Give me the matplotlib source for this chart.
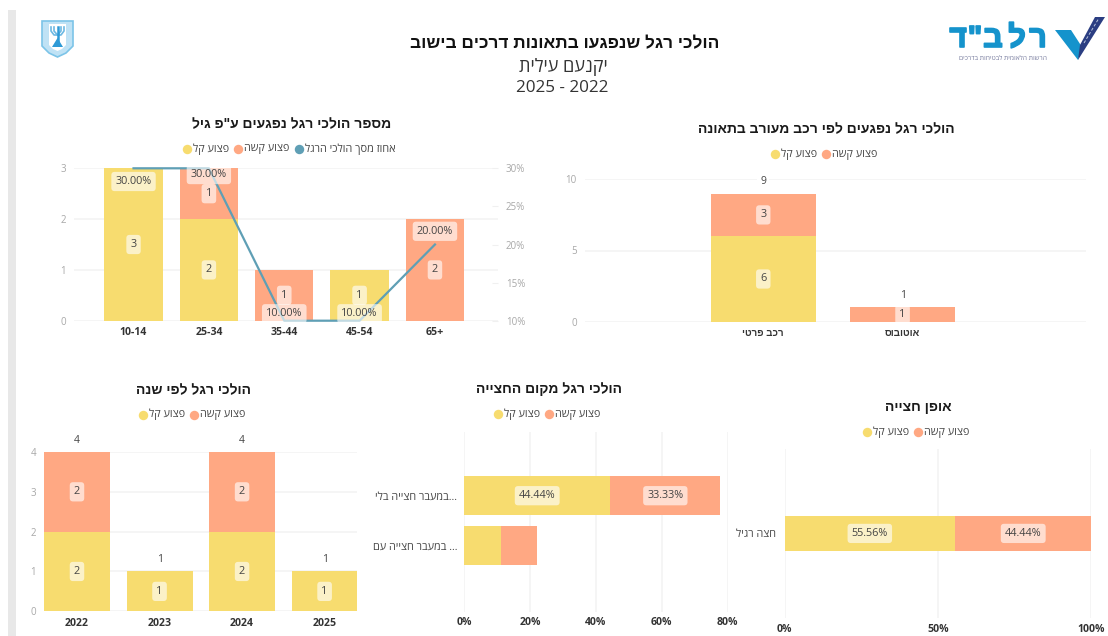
import matplotlib
matplotlib.use("Agg")
import matplotlib.pyplot as plt
import matplotlib.patheffects as pe
from matplotlib.patches import Polygon, Rectangle

plt.rcParams['font.family'] = ['Open Sans', 'Liberation Sans', 'DejaVu Sans']
BOLD_HEB = ['Liberation Sans', 'DejaVu Sans']

# Data
light_name = "פצוע קל"
severe_name = "פצוע קשה"
share_name = "אחוז מסך הולכי הרגל"

age_groups = ["10-14", "25-34", "35-44", "45-54", "65+"]
age_light = [3, 2, 0, 1, 0]
age_severe = [0, 1, 1, 0, 2]
age_share = [30, 30, 10, 10, 20]

vehicles = ["רכב פרטי", "אוטובוס"]
vehicle_light = [6, 0]
vehicle_severe = [3, 1]

years = ["2022", "2023", "2024", "2025"]
year_light = [2, 1, 2, 1]
year_severe = [2, 0, 2, 0]

places = ["...במעבר חצייה בלי", "... במעבר חצייה עם"]
place_light = [44.44, 11.11]
place_severe = [33.33, 11.11]

manners = ["חצה רגיל"]
manner_light = [55.56]
manner_severe = [44.44]

YELLOW = "#F7DC6F"
SALMON = "#FFA883"
TEAL = "#5F9FB5"
GRID = "#F3F3F3"
W, H = 1108, 636
BADGE = dict(boxstyle='round,pad=0.38,rounding_size=0.3', fc='white', ec='none', alpha=0.62)


def rtl(s):
    # matplotlib has no bidi, so Hebrew goes in visual order
    return s[::-1]


fig = plt.figure(figsize=(W / 100, H / 100), dpi=100)


def px_axes(left, top, right, bottom):
    ax = fig.add_axes([left / W, 1 - bottom / H, (right - left) / W, (bottom - top) / H])
    ax.set_axisbelow(True)
    for s in ax.spines.values():
        s.set_visible(False)
    return ax


def badge(ax, x, y, text):
    ax.text(x, y, text, ha='center', va='center', fontsize=7.8, color='#444444', zorder=6, bbox=BADGE)


def style_vbars(ax, labels, family=None, size=7.6):
    ax.grid(axis='y', color=GRID, lw=1.1)
    ax.tick_params(axis='x', length=0, pad=4.5)
    ax.tick_params(axis='y', length=0, pad=6, labelsize=7, labelcolor='#A8A8A8')
    ax.set_xticks(range(len(labels)))
    ax.set_xticklabels(labels, fontsize=size, fontweight='bold', color='#333333', family=family)


def stacked_v(ax, light, severe, width):
    xs = range(len(light))
    ax.bar(xs, light, width=width, color=YELLOW, zorder=2)
    ax.bar(xs, severe, width=width, bottom=light, color=SALMON, zorder=2)
    for x, a, b in zip(xs, light, severe):
        if a:
            badge(ax, x, a / 2, str(a))
        if b:
            badge(ax, x, a + b / 2, str(b))


def totals(ax, light, severe):
    for x, (a, b) in enumerate(zip(light, severe)):
        ax.annotate(str(a + b), (x, a + b), xytext=(0, 8.5), textcoords='offset points', ha='center',
                    va='center', fontsize=7.5, color='#444444', zorder=6, annotation_clip=False,
                    bbox=dict(boxstyle='square,pad=0.3', fc='white', ec='none'))


def stacked_h(ax, labels, light, severe, ticks, height):
    ys = range(len(labels))
    ax.barh(ys, light, height=height, color=YELLOW, zorder=2)
    ax.barh(ys, severe, height=height, left=light, color=SALMON, zorder=2)
    for y, a, b in zip(ys, light, severe):
        # the small bar has no room for its labels
        if a > 20:
            badge(ax, a / 2, y, f"{a:.2f}%")
        if b > 20:
            badge(ax, a + b / 2, y, f"{b:.2f}%")
    ax.grid(axis='x', color=GRID, lw=1.1)
    ax.set_yticks(list(ys))
    ax.set_yticklabels([rtl(s) for s in labels], fontsize=7.8, color='#444444')
    ax.set_xticks(ticks)
    ax.set_xticklabels([f"{t}%" for t in ticks], fontsize=7.6, fontweight='bold', color='#333333')
    ax.tick_params(length=0)


# Age chart with share line on second axis
ax1 = px_axes(74, 168.3, 497.5, 320.7)
stacked_v(ax1, age_light, age_severe, 0.775)
style_vbars(ax1, age_groups)
ax1.set_xlim(-0.79, 4.83)
ax1.set_ylim(0, 3)
ax1.set_yticks([0, 1, 2, 3])

ax1b = ax1.twinx()
for s in ax1b.spines.values():
    s.set_visible(False)
ax1b.plot(range(5), age_share, color=TEAL, lw=1.6, clip_on=False, zorder=4)
ax1b.set_ylim(10, 30)
ax1b.set_yticks([10, 15, 20, 25, 30])
ax1b.set_yticklabels([f"{t}%" for t in [10, 15, 20, 25, 30]], fontsize=7, color='#A8A8A8')
ax1b.tick_params(axis='y', direction='in', length=4.5, color='#F0F0F0', pad=6)
share_offsets = [-9.5, -4.5, 5, 5, 9.5]
for x, v, off in zip(range(5), age_share, share_offsets):
    ax1b.annotate(f"{v:.2f}%", (x, v), xytext=(0, off), textcoords='offset points', ha='center', va='center',
                  fontsize=7.8, color='#444444', zorder=6, annotation_clip=False, bbox=BADGE)

# Vehicle chart
ax2 = px_axes(585, 179.3, 1086, 321.7)
stacked_v(ax2, vehicle_light, vehicle_severe, 0.757)
style_vbars(ax2, [rtl(v) for v in vehicles], family=BOLD_HEB, size=7)
ax2.set_xlim(-1.28, 2.317)
ax2.set_ylim(0, 10)
ax2.set_yticks([0, 5, 10])
totals(ax2, vehicle_light, vehicle_severe)

# Year chart
ax3 = px_axes(44.3, 452, 357.3, 611.3)
stacked_v(ax3, year_light, year_severe, 0.8)
style_vbars(ax3, years)
ax3.set_xlim(-0.396, 3.396)
ax3.set_ylim(0, 4)
ax3.set_yticks([0, 1, 2, 3, 4])
totals(ax3, year_light, year_severe)

# Crossing place
ax4 = px_axes(464, 431.7, 727.6, 611.7)
stacked_h(ax4, places, place_light, place_severe, [0, 20, 40, 60, 80], 0.77)
ax4.set_xlim(0, 80)
ax4.set_ylim(2.32, -1.28)
ax4.tick_params(axis='x', pad=4)
ax4.tick_params(axis='y', pad=5)

# Crossing manner
ax5 = px_axes(784.6, 449.3, 1091.4, 618)
stacked_h(ax5, manners, manner_light, manner_severe, [0, 50, 100], 0.77)
ax5.set_xlim(0, 100)
ax5.set_ylim(1.85, -1.84)
ax5.tick_params(axis='x', pad=4)
ax5.tick_params(axis='y', pad=6)

# Overlay in pixel coordinates for header, titles, legends and logos
ov = fig.add_axes([0, 0, 1, 1], zorder=10)
ov.set_xlim(0, W)
ov.set_ylim(H, 0)
ov.axis('off')
ov.patch.set_alpha(0)

ov.add_patch(Rectangle((8, 10), 8, H - 10, fc='#E8E8E8', ec='none'))

ov.text(565, 44, rtl("הולכי רגל שנפגעו בתאונות דרכים בישוב"), ha='center', va='center', fontsize=12.4,
        fontweight='bold', color='#111111', family=BOLD_HEB)
ov.text(563, 67, rtl("יקנעם עילית"), ha='center', va='center', fontsize=13, color='#333333')
ov.text(562, 88, "2025 - 2022", ha='center', va='center', fontsize=12.3, color='#333333')


def title_legend(title, cx, ty, ly, items):
    ov.text(cx, ty, rtl(title), ha='center', va='center', fontsize=10, fontweight='bold', color='#1A1A1A',
            family=BOLD_HEB)
    for dot, name, color in items:
        ov.plot([dot], [ly], 'o', ms=6.8, color=color, mec='none')
        ov.text(dot + 6, ly, rtl(name), ha='left', va='center', fontsize=7.8, color='#444444')


title_legend("מספר הולכי רגל נפגעים ע\"פ גיל", 292, 124, 149,
             [(186.6, light_name, YELLOW), (238, severe_name, SALMON), (299, share_name, TEAL)])
title_legend("הולכי רגל נפגעים לפי רכב מעורב בתאונה", 826, 129, 154,
             [(775, light_name, YELLOW), (826, severe_name, SALMON)])
title_legend("הולכי רגל לפי שנה", 194, 390, 414.7,
             [(142.7, light_name, YELLOW), (194, severe_name, SALMON)])
title_legend("הולכי רגל מקום החצייה", 549, 389, 414,
             [(498, light_name, YELLOW), (549.3, severe_name, SALMON)])
title_legend("אופן חצייה", 918, 407, 432,
             [(867, light_name, YELLOW), (918, severe_name, SALMON)])

# State emblem, roughly
ov.add_patch(Polygon([(42, 21), (73, 21), (73, 46), (66, 53), (57.5, 57), (49, 53), (42, 46)], closed=True,
                     fc='#BFE2F5', ec='#7CC4E8', lw=1.2))
ov.add_patch(Polygon([(49, 24), (66, 24), (66, 45), (62, 49), (57.5, 51), (53, 49), (49, 45)], closed=True,
                     fc='white', ec='none'))
ov.plot([51, 51, 54, 61, 64, 64], [27, 31, 35, 35, 31, 27], color='#6DB9E3', lw=1.2)
ov.plot([54, 54, 57.5, 61, 61], [27, 31, 35, 31, 27], color='#6DB9E3', lw=1.2)
ov.plot([57.5, 57.5], [27, 42], color='#2E9AD6', lw=1.8)
ov.add_patch(Polygon([(52, 47), (57.5, 38), (63, 47)], closed=True, fc='#2E9AD6', ec='none'))

# Road safety authority logo, roughly
ov.add_patch(Polygon([(1055, 30), (1071, 30), (1082, 47), (1078, 60)], closed=True, fc='#1593CC', ec='none'))
ov.add_patch(Polygon([(1080, 45), (1095, 17), (1105, 17), (1078, 60)], closed=True, fc='#2B3E82', ec='none'))
ov.plot([1084, 1099], [43, 18], color='#B8C4DC', lw=0.7, ls=(0, (3, 2)))
for letter, x in zip("ד\"בלר", [958, 975, 993, 1017, 1038]):
    ov.text(x, 39, letter, ha='center', va='center', fontsize=22, fontweight='bold', color='#1593CC',
            family=BOLD_HEB, path_effects=[pe.withStroke(linewidth=1.2, foreground='#1593CC')])
ov.text(1003, 58, rtl("הרשות הלאומית לבטיחות בדרכים"), ha='center', va='center', fontsize=4.8, color='#7A7FA0')

fig.savefig("out.png", dpi=100)
